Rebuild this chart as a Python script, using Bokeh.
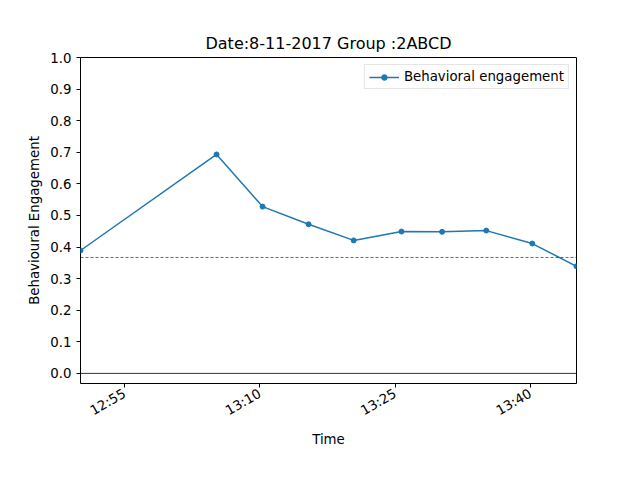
import datetime as dt
from bokeh.plotting import figure
from bokeh.models import (DatetimeTickFormatter, FixedTicker, Span, Range1d, Legend,
                          LegendItem, NumeralTickFormatter)
from bokeh.embed import file_html
from bokeh.resources import INLINE

times = ["12:50:07", "13:05:12", "13:10:18", "13:15:24", "13:20:24", "13:25:42",
         "13:30:12", "13:35:06", "13:40:12", "13:45:06"]
engagement = [0.389, 0.693, 0.528, 0.472, 0.421, 0.449, 0.448, 0.452, 0.411, 0.339]
mean_line = 0.367
tick_times = ["12:55", "13:10", "13:25", "13:40"]
y_ticks = [0.0, 0.1, 0.2, 0.3, 0.4, 0.5, 0.6, 0.7, 0.8, 0.9, 1.0]

base = "2017-08-11 "
def ts(s):
    fmt = "%Y-%m-%d %H:%M:%S" if s.count(":") == 2 else "%Y-%m-%d %H:%M"
    return dt.datetime.strptime(base + s, fmt)
def ms(d):
    return (d - dt.datetime(1970, 1, 1)).total_seconds() * 1000

xs = [ts(t) for t in times]

p = figure(width=632, height=472, output_backend="svg", toolbar_location=None,
           x_axis_type="datetime", title="Date:8-11-2017 Group :2ABCD",
           min_border_left=80, min_border_right=56, min_border_top=57, min_border_bottom=89)
p.x_range = Range1d(xs[0], xs[-1])
p.y_range = Range1d(-0.032, 1.0)
p.title.align = "center"
p.title.text_font = "DejaVu Sans"
p.title.text_font_size = "12pt"
p.title.text_font_style = "normal"
p.title.text_color = "black"
p.grid.visible = False
p.outline_line_color = "black"

p.xaxis.ticker = FixedTicker(ticks=[ms(ts(t)) for t in tick_times])
p.xaxis.formatter = DatetimeTickFormatter(minutes="%H:%M", hours="%H:%M", minsec="%H:%M")
p.xaxis.major_label_orientation = 0.52
p.yaxis.ticker = FixedTicker(ticks=y_ticks)
p.yaxis.formatter = NumeralTickFormatter(format="0.0")
p.xaxis.axis_label = "Time"
p.yaxis.axis_label = "Behavioural Engagement"
for ax in (p.xaxis, p.yaxis):
    ax.axis_label_text_font = "DejaVu Sans"
    ax.axis_label_text_font_style = "normal"
    ax.axis_label_text_font_size = "10pt"
    ax.axis_label_text_color = "black"
    ax.major_label_text_font = "DejaVu Sans"
    ax.major_label_text_font_size = "10pt"
    ax.major_label_text_color = "black"
    ax.minor_tick_line_color = None
    ax.major_tick_in = 0
    ax.major_tick_out = 4
    ax.major_tick_line_color = "black"
    ax.axis_line_color = None
p.xaxis.axis_label_standoff = 4

p.add_layout(Span(location=0, dimension="width", line_color="black", line_width=0.8))
p.add_layout(Span(location=mean_line, dimension="width", line_color="black",
                  line_width=0.6, line_dash="3 2"))

c = "#1f77b4"
l = p.line(xs, engagement, line_color=c, line_width=1.5)
s = p.scatter(xs, engagement, color=c, size=5)
leg = Legend(items=[LegendItem(label="Behavioral engagement", renderers=[l, s])],
             location="top_right", label_text_font="DejaVu Sans",
             label_text_font_size="10pt", border_line_color="#cccccc",
             glyph_width=30, glyph_height=14, padding=4, spacing=0, margin=7,
             label_text_color="black")
p.add_layout(leg)

open("out.html", "w").write(file_html(p, INLINE))
